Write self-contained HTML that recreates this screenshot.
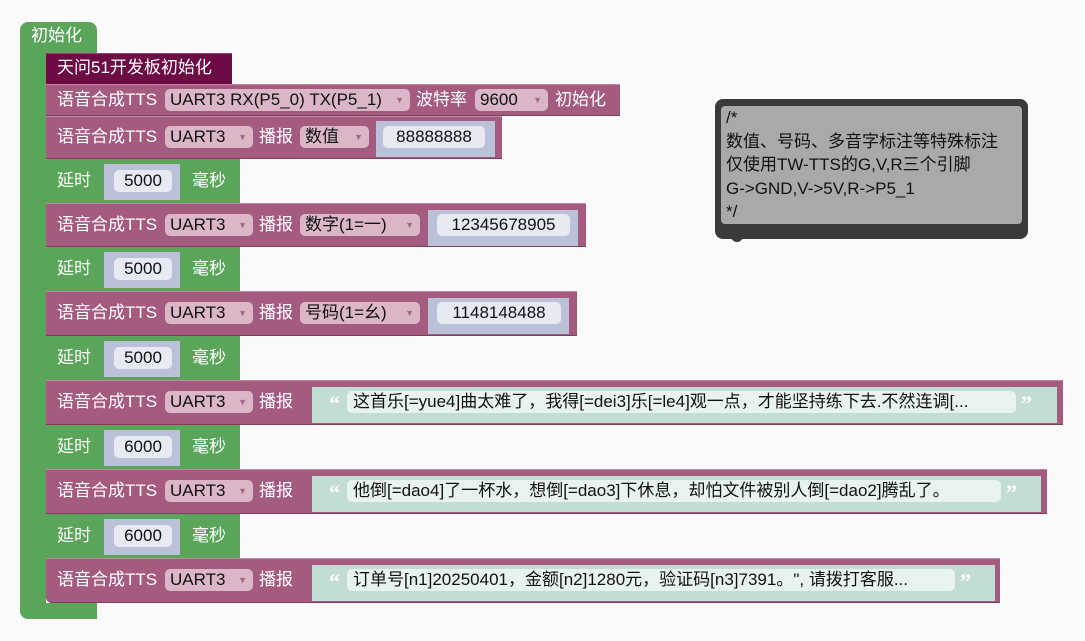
<!DOCTYPE html>
<html><head><meta charset="utf-8"><style>
body{margin:0;width:1085px;height:641px;background:#fafafa;position:relative;overflow:hidden;font-family:"Liberation Sans","Noto Sans CJK SC",sans-serif;font-size:17px}
div{position:absolute;box-sizing:border-box}
.g{background:#5ba55b}
.m{background:#a55b80;border-top:1px solid #c08aa5;border-bottom:1px solid #7d3f5e}
.t{color:#fff;white-space:nowrap;line-height:22px;height:22px}
.dd{background:#dbb6c8;border-radius:5px;height:22px;line-height:22px;color:#111;padding-left:5px;white-space:nowrap}
.dd span{position:absolute;right:6px;top:0;font-size:9px;color:#a06a85}
.nb{background:#bcc1da}
.nf{background:#e7e9f3;border-radius:5px;height:22px;line-height:22px;color:#111;text-align:center;white-space:nowrap}
.sb{background:#c3ddd4}
.sf{background:#e8f2ee;border-radius:5px;height:22px;line-height:22px;color:#111;padding-left:6px;white-space:nowrap;overflow:hidden}
.q{color:#fff;font-size:22px;font-weight:bold;line-height:22px;height:22px;font-family:"Liberation Serif",serif}
</style></head><body>
<div class="g" style="left:20px;top:22px;width:77px;height:32px;border-radius:8px 8px 0 0"></div>
<div class="g" style="left:20px;top:50px;width:26px;height:568px;border-radius:0 0 0 8px"></div>
<div class="g" style="left:20px;top:603px;width:77px;height:16px;border-radius:0 0 0 8px"></div>
<div class="t" style="left:31px;top:25px">初始化</div>

<div style="left:46px;top:53px;width:186px;height:32px;background:#6d0b45;border-top:1px solid #9a3e70"></div>
<div class="t" style="left:57px;top:57px">天问51开发板初始化</div>

<div class="m" style="left:46px;top:84px;width:574px;height:32px"></div>
<div class="t" style="left:57px;top:89px">语音合成TTS</div>
<div class="dd" style="left:165px;top:89px;width:245px">UART3 RX(P5_0) TX(P5_1)<span>▼</span></div>
<div class="t" style="left:416px;top:89px">波特率</div>
<div class="dd" style="left:475px;top:89px;width:73px">9600<span>▼</span></div>
<div class="t" style="left:555px;top:89px">初始化</div>

<div class="m" style="left:46px;top:116px;width:456px;height:43px"></div>
<div class="t" style="left:57px;top:126px">语音合成TTS</div>
<div class="dd" style="left:165px;top:126px;width:88px">UART3<span>▼</span></div>
<div class="t" style="left:259px;top:126px">播报</div>
<div class="dd" style="left:300px;top:126px;width:69px">数值<span>▼</span></div>
<div class="nb" style="left:376px;top:121px;width:119px;height:36px"></div>
<div class="nf" style="left:383px;top:126px;width:102px">88888888</div>

<div class="g" style="left:46px;top:159px;width:194px;height:44px"></div>
<div class="t" style="left:57px;top:170px">延时</div>
<div class="nb" style="left:104px;top:164px;width:76px;height:36px"></div>
<div class="nf" style="left:114px;top:170px;width:58px">5000</div>
<div class="t" style="left:192px;top:170px">毫秒</div>

<div class="m" style="left:46px;top:203px;width:540px;height:44px"></div>
<div class="t" style="left:57px;top:214px">语音合成TTS</div>
<div class="dd" style="left:165px;top:214px;width:88px">UART3<span>▼</span></div>
<div class="t" style="left:259px;top:214px">播报</div>
<div class="dd" style="left:300px;top:214px;width:120px">数字(1=一)<span>▼</span></div>
<div class="nb" style="left:428px;top:210px;width:150px;height:36px"></div>
<div class="nf" style="left:437px;top:214px;width:133px">12345678905</div>

<div class="g" style="left:46px;top:247px;width:194px;height:44px"></div>
<div class="t" style="left:57px;top:258px">延时</div>
<div class="nb" style="left:104px;top:252px;width:76px;height:36px"></div>
<div class="nf" style="left:114px;top:258px;width:58px">5000</div>
<div class="t" style="left:192px;top:258px">毫秒</div>

<div class="m" style="left:46px;top:291px;width:531px;height:45px"></div>
<div class="t" style="left:57px;top:302px">语音合成TTS</div>
<div class="dd" style="left:165px;top:302px;width:88px">UART3<span>▼</span></div>
<div class="t" style="left:259px;top:302px">播报</div>
<div class="dd" style="left:300px;top:302px;width:120px">号码(1=幺)<span>▼</span></div>
<div class="nb" style="left:428px;top:298px;width:141px;height:36px"></div>
<div class="nf" style="left:437px;top:302px;width:124px">1148148488</div>

<div class="g" style="left:46px;top:336px;width:194px;height:44px"></div>
<div class="t" style="left:57px;top:347px">延时</div>
<div class="nb" style="left:104px;top:341px;width:76px;height:36px"></div>
<div class="nf" style="left:114px;top:347px;width:58px">5000</div>
<div class="t" style="left:192px;top:347px">毫秒</div>

<div class="m" style="left:46px;top:380px;width:1017px;height:45px"></div>
<div class="t" style="left:57px;top:391px">语音合成TTS</div>
<div class="dd" style="left:165px;top:391px;width:88px">UART3<span>▼</span></div>
<div class="t" style="left:259px;top:391px">播报</div>
<div class="sb" style="left:312px;top:387px;width:745px;height:36px"></div>
<div class="q" style="left:329px;top:393px">“</div>
<div class="sf" style="left:347px;top:391px;width:669px">这首乐[=yue4]曲太难了，我得[=dei3]乐[=le4]观一点，才能坚持练下去.不然连调[...</div>
<div class="q" style="left:1021px;top:393px">”</div>

<div class="g" style="left:46px;top:425px;width:194px;height:44px"></div>
<div class="t" style="left:57px;top:436px">延时</div>
<div class="nb" style="left:104px;top:430px;width:76px;height:36px"></div>
<div class="nf" style="left:114px;top:436px;width:58px">6000</div>
<div class="t" style="left:192px;top:436px">毫秒</div>

<div class="m" style="left:46px;top:469px;width:1001px;height:45px"></div>
<div class="t" style="left:57px;top:480px">语音合成TTS</div>
<div class="dd" style="left:165px;top:480px;width:88px">UART3<span>▼</span></div>
<div class="t" style="left:259px;top:480px">播报</div>
<div class="sb" style="left:312px;top:476px;width:729px;height:36px"></div>
<div class="q" style="left:329px;top:482px">“</div>
<div class="sf" style="left:347px;top:480px;width:654px">他倒[=dao4]了一杯水，想倒[=dao3]下休息，却怕文件被别人倒[=dao2]腾乱了。</div>
<div class="q" style="left:1006px;top:482px">”</div>

<div class="g" style="left:46px;top:514px;width:194px;height:44px"></div>
<div class="t" style="left:57px;top:525px">延时</div>
<div class="nb" style="left:104px;top:519px;width:76px;height:36px"></div>
<div class="nf" style="left:114px;top:525px;width:58px">6000</div>
<div class="t" style="left:192px;top:525px">毫秒</div>

<div class="m" style="left:46px;top:558px;width:954px;height:45px;border-radius:0 0 0 6px"></div>
<div class="t" style="left:57px;top:569px">语音合成TTS</div>
<div class="dd" style="left:165px;top:569px;width:88px">UART3<span>▼</span></div>
<div class="t" style="left:259px;top:569px">播报</div>
<div class="sb" style="left:312px;top:565px;width:683px;height:36px"></div>
<div class="q" style="left:329px;top:571px">“</div>
<div class="sf" style="left:347px;top:569px;width:608px">订单号[n1]20250401，金额[n2]1280元，验证码[n3]7391。", 请拨打客服...</div>
<div class="q" style="left:960px;top:571px">”</div>

<div style="left:715px;top:99px;width:313px;height:140px;background:#3a3a3a;border-radius:8px"></div>
<div style="left:731px;top:236px;width:12px;height:6px;background:#3a3a3a;border-radius:0 0 6px 6px"></div>
<div style="left:721px;top:106px;width:301px;height:118px;background:#a9a9a9;border-radius:4px"></div>
<div style="left:726px;top:106px;color:#111;font-size:17px;line-height:23.5px;white-space:pre">/*
数值、号码、多音字标注等特殊标注
仅使用TW-TTS的G,V,R三个引脚
G-&gt;GND,V-&gt;5V,R-&gt;P5_1
*/</div>
</body></html>
